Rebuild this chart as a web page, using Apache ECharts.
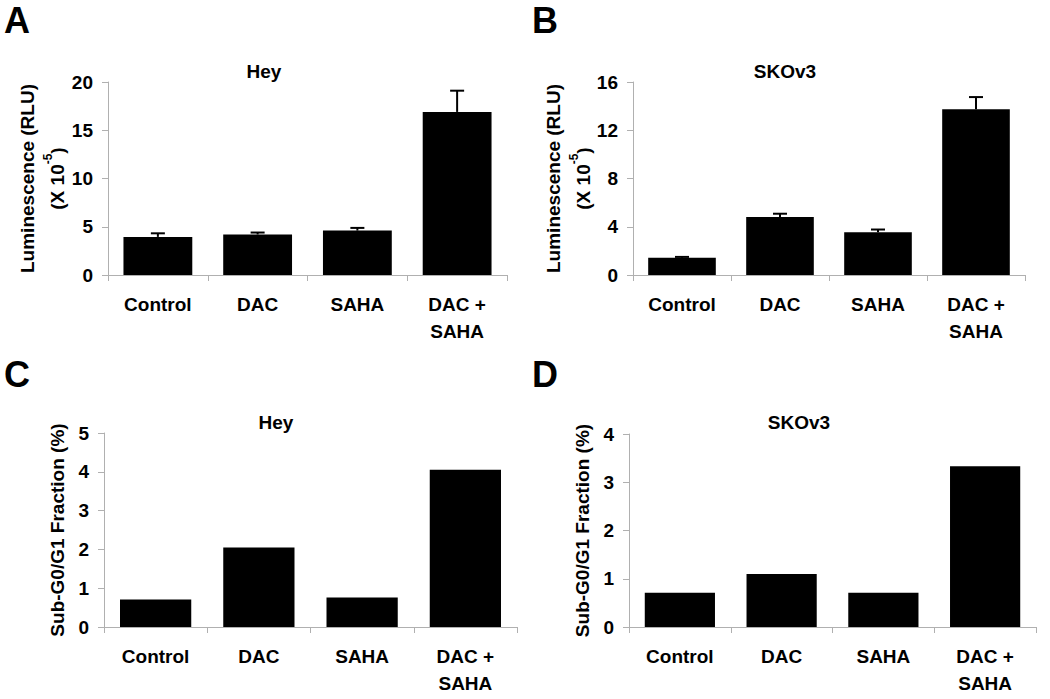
<!DOCTYPE html>
<html>
<head>
<meta charset="utf-8">
<style>
html,body{margin:0;padding:0;background:#fff;}
#chart{width:1050px;height:699px;}
</style>
<script src="https://cdn.jsdelivr.net/npm/echarts@6/dist/echarts.min.js"></script>
</head>
<body>
<div id="chart"></div>
<script>
// ---- data ----
const categories = ['Control', 'DAC', 'SAHA', 'DAC +\nSAHA'];

const heyLumValues   = [3.95, 4.2, 4.6, 16.9];
const heyLumErrors   = [0.37, 0.2, 0.28, 2.2];
const skovLumValues  = [1.43, 4.8, 3.55, 13.75];
const skovLumErrors  = [0.07, 0.28, 0.22, 1.0];
const heySubG1Values  = [0.71, 2.05, 0.76, 4.05];
const skovSubG1Values = [0.71, 1.1, 0.71, 3.33];

const panelLetters = ['A', 'B', 'C', 'D'];
const panelTitles  = ['Hey', 'SKOv3', 'Hey', 'SKOv3'];
const yMax      = [20, 16, 5, 4];
const yInterval = [5, 4, 1, 1];

// ---- layout & style ----
const FONT = 'Liberation Sans, Arial, sans-serif';
const AXIS_GRAY = '#b0b0b0';
const grids = [
  {left: 108, top: 82, width: 399, height: 193},
  {left: 633, top: 82, width: 392, height: 193},
  {left: 104, top: 433, width: 413, height: 194},
  {left: 629, top: 434, width: 407, height: 193}
];
const titleCenters = [[264, 62], [785, 62], [276, 413], [799, 413]];
const letterPos = [[4, 2], [532, 2], [4, 356], [532, 356]];
const nameGaps = [36, 32, 37, 37];

const lumName = '{a|Luminescence (RLU)}\n{a|(X 10}{s|-5}{a|)}';
const subName = 'Sub-G0/G1 Fraction (%)';
const yNames = [lumName, lumName, subName, subName];

const barData = [heyLumValues, skovLumValues, heySubG1Values, skovSubG1Values];
const errData = [heyLumErrors, skovLumErrors, null, null];

const title = [];
const xAxis = [];
const yAxis = [];
const series = [];

for (let i = 0; i < 4; i++) {
  title.push({
    text: panelLetters[i], left: letterPos[i][0], top: letterPos[i][1], padding: 0,
    textStyle: {fontFamily: FONT, fontWeight: 'bold', fontSize: 36, color: '#000'}
  });
  title.push({
    text: panelTitles[i], left: titleCenters[i][0], top: titleCenters[i][1], padding: 0,
    textAlign: 'center',
    textStyle: {fontFamily: FONT, fontWeight: 'bold', fontSize: 19, color: '#000'}
  });
  xAxis.push({
    type: 'category', gridIndex: i, data: categories, boundaryGap: true,
    axisLine: {show: true, lineStyle: {color: AXIS_GRAY, width: 1}},
    axisTick: {show: true, length: 6, alignWithLabel: false, lineStyle: {color: AXIS_GRAY}},
    axisLabel: {
      margin: 16, color: '#000', fontFamily: FONT, fontWeight: 'bold', fontSize: 19,
      lineHeight: 27, interval: 0
    }
  });
  const isRich = i < 2;
  yAxis.push({
    type: 'value', gridIndex: i, min: 0, max: yMax[i], interval: yInterval[i],
    splitLine: {show: false},
    axisLine: {show: true, lineStyle: {color: AXIS_GRAY, width: 1}},
    axisTick: {show: true, length: 6, lineStyle: {color: AXIS_GRAY}},
    axisLabel: {margin: 15, color: '#000', fontFamily: FONT, fontWeight: 'bold', fontSize: 19},
    name: yNames[i], nameLocation: 'middle', nameGap: nameGaps[i],
    nameTextStyle: isRich ? {
      rich: {
        a: {fontFamily: FONT, fontWeight: 'bold', fontSize: 19, color: '#000', lineHeight: 30},
        s: {fontFamily: FONT, fontWeight: 'bold', fontSize: 12, color: '#000', lineHeight: 16, verticalAlign: 'top'}
      }
    } : {fontFamily: FONT, fontWeight: 'bold', fontSize: 19, color: '#000', lineHeight: 20}
  });
  series.push({
    type: 'bar', xAxisIndex: i, yAxisIndex: i, data: barData[i], barWidth: '69%',
    itemStyle: {color: '#000'}, z: 3, silent: true
  });
  if (errData[i]) {
    const vals = barData[i], errs = errData[i];
    series.push({
      type: 'custom', xAxisIndex: i, yAxisIndex: i, z: 2, silent: true,
      data: vals.map((v, k) => [k, v, errs[k]]),
      encode: {x: 0, y: 1},
      renderItem: function (params, api) {
        const k = api.value(0), v = api.value(1), e = api.value(2);
        const p0 = api.coord([k, v]);
        const p1 = api.coord([k, v + e]);
        const hw = 7;
        return {
          type: 'group',
          children: [
            {type: 'line', shape: {x1: p0[0], y1: p0[1], x2: p1[0], y2: p1[1]}, style: {stroke: '#000', lineWidth: 2}},
            {type: 'line', shape: {x1: p1[0] - hw, y1: p1[1], x2: p1[0] + hw, y2: p1[1]}, style: {stroke: '#000', lineWidth: 2}}
          ]
        };
      }
    });
  }
}

const chart = echarts.init(document.getElementById('chart'), null, {renderer: 'svg'});
chart.setOption({
  backgroundColor: '#fff',
  animation: false,
  title: title,
  grid: grids,
  xAxis: xAxis,
  yAxis: yAxis,
  series: series
});
</script>
</body>
</html>
